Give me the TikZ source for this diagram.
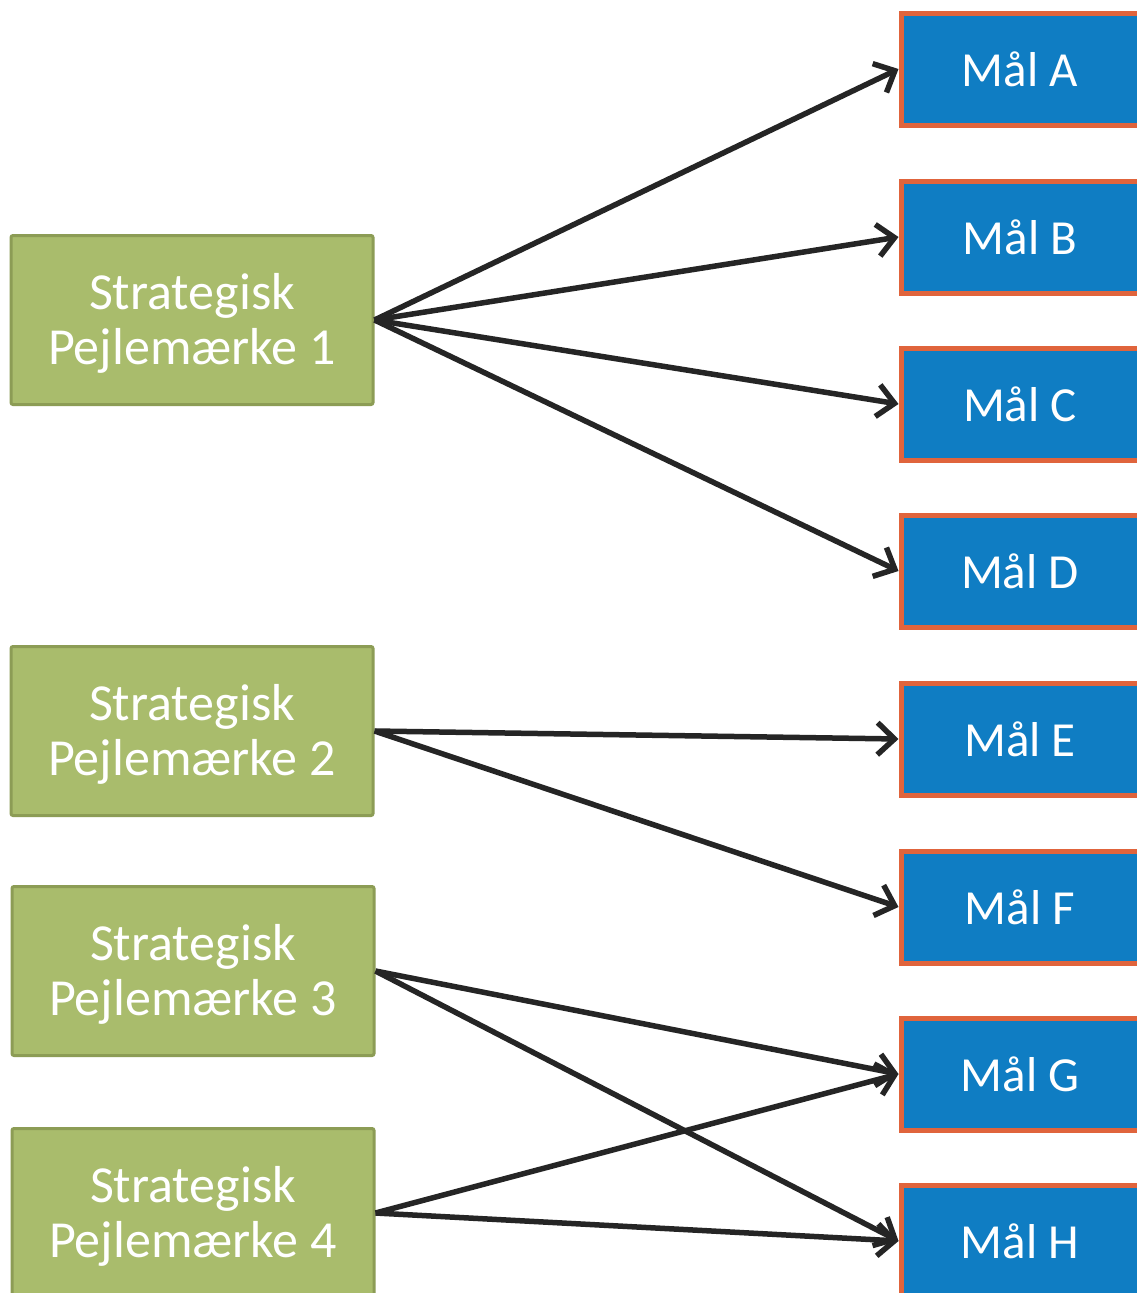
\documentclass[tikz,border=0pt]{standalone}
\usepackage{fontspec}
\setmainfont{Carlito}
\usetikzlibrary{arrows.meta}
\definecolor{gfill}{HTML}{A9BC6C}
\definecolor{gdraw}{HTML}{8C9C55}
\definecolor{bfill}{HTML}{0F7DC3}
\definecolor{bdraw}{HTML}{E0643C}
\definecolor{arr}{HTML}{252525}
\newcommand{\pmtext}[1]{\raisebox{-12pt}[0pt][0pt]{\begin{tabular}{@{}c@{}}Strategisk\\Pejlemærke #1\end{tabular}}}
\begin{document}
\begin{tikzpicture}[x=1pt,y=-1pt,
  pm/.style={draw=gdraw, line width=3pt, fill=gfill, minimum width=362pt, minimum height=169pt,
    text=white, font=\fontsize{52}{55}\selectfont, inner sep=0pt,
    rounded corners=2pt},
  goal/.style={draw=bdraw, line width=5pt, fill=bfill, minimum width=238pt, minimum height=112pt,
    text=white, font=\fontsize{49}{60}\selectfont, inner sep=0pt},
  link/.style={draw=arr, line width=5.5pt, -{Straight Barb[length=17pt,width=32pt,line width=5.5pt]}}]
\useasboundingbox (0,0) rectangle (1137,1293);
\fill[white] (0,0) rectangle (1137,1293);
\node[pm] (p1) at (192,320) {\pmtext{1}};
\node[pm] (p2) at (192,731) {\pmtext{2}};
\node[pm] (p3) at (193,971) {\pmtext{3}};
\node[pm] (p4) at (193,1213) {\pmtext{4}};
\node[goal] (a) at (1020,69)  {Mål A};
\node[goal] (b) at (1020,237) {Mål B};
\node[goal] (c) at (1020,404) {Mål C};
\node[goal] (d) at (1020,571) {Mål D};
\node[goal] (e) at (1020,739) {Mål E};
\node[goal] (f) at (1020,907) {Mål F};
\node[goal] (g) at (1020,1074) {Mål G};
\node[goal] (h) at (1020,1241) {Mål H};
\foreach \t in {a,b,c,d} \draw[link] (p1.east) -- (\t.west);
\foreach \t in {e,f} \draw[link] (p2.east) -- (\t.west);
\foreach \t in {g,h} \draw[link] (p3.east) -- (\t.west);
\foreach \t in {g,h} \draw[link] (p4.east) -- (\t.west);
\end{tikzpicture}
\end{document}
